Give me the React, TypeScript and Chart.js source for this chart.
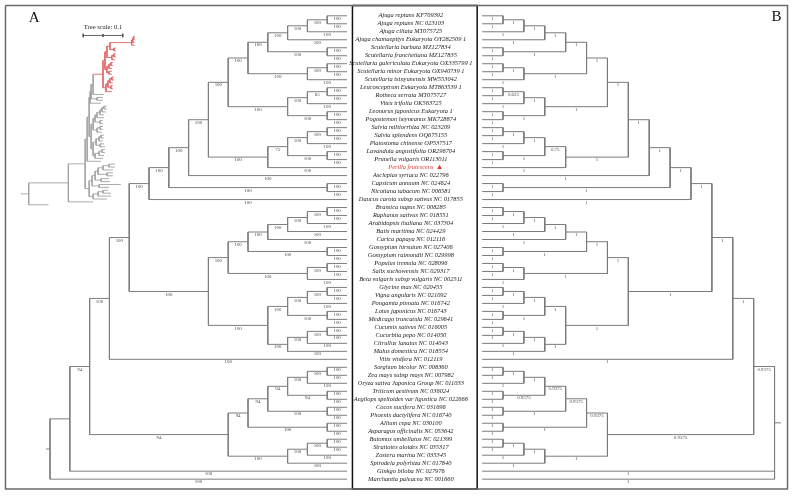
import React, { useEffect, useRef } from "react";
import { Chart, registerables } from "chart.js";

Chart.register(...registerables);

const W = 793;
const H = 496;

// ---------------- DATA ----------------
const taxa: string[] = [
  "Ajuga reptans KF709392",
  "Ajuga reptans NC 023103",
  "Ajuga ciliata MT075725",
  "Ajuga chamaepitys Eukaryota OY282509 1",
  "Scutellaria barbata MZ127834",
  "Scutellaria franchetiana MZ127835",
  "Scutellaria galericulata Eukaryota OX335799 1",
  "Scutellaria minor Eukaryota OX940739 1",
  "Scutellaria tsinyunensis MW553042",
  "Leucosceptrum Eukaryota MT863539 1",
  "Rotheca serrata MT075727",
  "Vitex trifolia OK563725",
  "Leonurus japonicus Eukaryota 1",
  "Pogostemon heyneanus MK728874",
  "Salvia miltiorrhiza NC 023209",
  "Salvia splendens OQ675155",
  "Platostoma chinense OP537517",
  "Lavandula angustifolia OR296704",
  "Prunella vulgaris OR113011",
  "Perilla frutescens",
  "Asclepias syriaca NC 022796",
  "Capsicum annuum NC 024624",
  "Nicotiana tabacum NC 006581",
  "Daucus carota subsp sativus NC 017855",
  "Brassica napus NC 008285",
  "Raphanus sativus NC 018551",
  "Arabidopsis thaliana NC 037304",
  "Batis maritima NC 024429",
  "Carica papaya NC 012116",
  "Gossypium hirsutum NC 027406",
  "Gossypium raimondii NC 029998",
  "Populus tremula NC 028096",
  "Salix suchowensis NC 029317",
  "Beta vulgaris subsp vulgaris NC 002511",
  "Glycine max NC 020455",
  "Vigna angularis NC 021092",
  "Pongamia pinnata NC 016742",
  "Lotus japonicus NC 016743",
  "Medicago truncatula NC 029641",
  "Cucumis sativus NC 016005",
  "Cucurbita pepo NC 014050",
  "Citrullus lanatus NC 014043",
  "Malus domestica NC 018554",
  "Vitis vinifera NC 012119",
  "Sorghum bicolor NC 008360",
  "Zea mays subsp mays NC 007982",
  "Oryza sativa Japonica Group NC 011033",
  "Triticum aestivum NC 036024",
  "Aegilops speltoides var ligustica NC 022666",
  "Cocos nucifera NC 031696",
  "Phoenix dactylifera NC 016740",
  "Allium cepa NC 030100",
  "Asparagus officinalis NC 053642",
  "Butomus umbellatus NC 021399",
  "Stratiotes aloides NC 035317",
  "Zostera marina NC 035345",
  "Spirodela polyrhiza NC 017840",
  "Ginkgo biloba NC 027976",
  "Marchantia paleacea NC 001660",
];

const markedTaxon = 20; // Perilla frutescens (red, marked)
const insetHighlight = [1, 2, 3, 4, 5, 6, 7, 8, 9, 10, 11, 12, 13, 14, 15, 16, 17, 18, 19, 20];

const terminalSupportA = "100";
const terminalSupportB = "1";

// Topology (leaf numbers = index in taxa, 1-based); node labels "bootstrap/posterior"
const cladeAjugaScutellaria =
  "(((((1,2)100/1,3)100/1,4)100/1,(5,6)100/1)100/1,((7,8)100/1,9)100/1)100/1";
const cladeLamiaceaeB = "(((10,11)65/0.625,12)100/1,(13,14)100/1)100/1";
const cladeNepetoideae = "((((15,16)100/1,17)100/1,(18,19)100/1)75/0.75,20)100/1";
const cladeAsterids = `(((((${cladeAjugaScutellaria},${cladeLamiaceaeB})100/1,${cladeNepetoideae})100/1,21)100/1,(22,23)100/1)100/1,24)100/1`;
const cladeRosids =
  "(((((((25,26)100/1,27)100/1,28)100/1,29)100/1,(30,31)100/1)100/1,((32,33)100/1,34)100/1)100/1,((((35,36)100/1,37)100/1,(38,39)100/1)100/1,(((40,41)100/1,42)100/1,43)100/1)100/1)100/1";
const cladeMonocots =
  "((((((45,46)100/1,47)100/1,(48,49)94/0.9375)94/0.9375,(50,51)100/1)94/0.9375,(52,53)100/1)94/0.9375,(((54,55)100/1,56)100/1,57)100/1)94/0.9375";
const topology = `(((((${cladeAsterids},${cladeRosids})100/1,44)100/1,${cladeMonocots})94/0.9375,58)/,59);`;

// Inset phylogram (branch lengths, substitutions/site)
const insetAjugaScutellaria =
  "(((((1:0.0025,2:0.0025):0.0025,3:0.005):0.0025,4:0.0075):0.055,(5:0.005,6:0.005):0.01):0.0075,((7:0.005,8:0.005):0.005,9:0.0075):0.0125):0.005";
const insetLamiaceaeB =
  "(((10:0.005,11:0.005):0.005,12:0.0075):0.005,(13:0.0075,14:0.0075):0.005):0.005";
const insetNepetoideae =
  "((((15:0.005,16:0.005):0.005,17:0.0075):0.005,(18:0.005,19:0.005):0.0075):0.005,20:0.015):0.0075";
const insetAsterids = `(((((${insetAjugaScutellaria},${insetLamiaceaeB}):0.005,${insetNepetoideae}):0.025,21:0.0275):0.005,(22:0.015,23:0.015):0.015):0.0025,24:0.0275):0.0025`;
const insetRosidsA =
  "((((((25:0.0075,26:0.0075):0.005,27:0.01):0.005,28:0.01):0.0075,29:0.0175):0.005,(30:0.0075,31:0.0075):0.0125):0.005,((32:0.0075,33:0.0075):0.0075,34:0.0125):0.01):0.005";
const insetRosidsB =
  "((((35:0.0075,36:0.0075):0.005,37:0.01):0.0075,(38:0.01,39:0.0125):0.01):0.0075,(((40:0.0075,41:0.0075):0.0075,42:0.0125):0.01,43:0.02):0.005):0.005";
const insetMonocots =
  "((((((45:0.015,46:0.015):0.015,47:0.025):0.0125,(48:0.015,49:0.015):0.0225):0.0075,(50:0.02,51:0.0225):0.015):0.0075,(52:0.055,53:0.025):0.0175):0.0075,(((54:0.0125,55:0.02):0.0125,56:0.0325):0.0125,57:0.035):0.01):0.01";
const insetTopology = `(((((${insetAsterids},(${insetRosidsA},${insetRosidsB}):0.005):0.005,44:0.035):0.005,${insetMonocots}):0.0425,58:0.0625):0.1,59:0.05);`;
const treeScaleValue = 0.1;

// ---------------- LAYOUT CONSTANTS ----------------
const LEAF_Y0 = 12;
const LEAF_DY = 8.12;
const A_TIP_X = 346.5;
const A_STEP = 20;
const B_TIP_X = 483;
const B_STEP = 21.1;
const NAME_X = 411;
const INSET_X0 = 25;
const INSET_PX_PER_UNIT = 400;
const INSET_Y0 = 33;
const INSET_DY = 2.95;
const SCALE_BAR_X = 80;
const SCALE_BAR_Y = 32;

// ---------------- TREE HELPERS ----------------
interface TNode {
  children: TNode[];
  leaf: number;
  sa: string;
  sb: string;
  len: number;
  x: number;
  y: number;
  h: number;
}

function parseNewick(src: string): TNode {
  const s = src.trim();
  let i = 0;
  const read = (): TNode => {
    const n: TNode = { children: [], leaf: 0, sa: "", sb: "", len: 0, x: 0, y: 0, h: 0 };
    if (s[i] === "(") {
      i++;
      n.children.push(read());
      while (s[i] === ",") {
        i++;
        n.children.push(read());
      }
      i++;
    }
    let lab = "";
    while (i < s.length && !",():;".includes(s[i])) lab += s[i++];
    if (s[i] === ":") {
      i++;
      let num = "";
      while (i < s.length && !",();".includes(s[i])) num += s[i++];
      n.len = parseFloat(num);
    }
    if (!n.children.length) n.leaf = parseInt(lab, 10);
    else {
      const parts = lab.split("/");
      n.sa = parts[0] || "";
      n.sb = parts[1] || "";
    }
    return n;
  };
  return read();
}

function collapseUnsupportedB(n: TNode): TNode {
  const kids: TNode[] = [];
  for (const c of n.children) {
    const cc = collapseUnsupportedB(c);
    if (cc.children.length && cc.sb === "") kids.push(...cc.children);
    else kids.push(cc);
  }
  return { ...n, children: kids };
}

function setHeights(n: TNode): number {
  n.h = n.children.length ? 1 + Math.max(...n.children.map(setHeights)) : 0;
  return n.h;
}

function setY(n: TNode, leafY: (i: number) => number) {
  if (!n.children.length) n.y = leafY(n.leaf);
  else {
    n.children.forEach((c) => setY(c, leafY));
    n.y = (n.children[0].y + n.children[n.children.length - 1].y) / 2;
  }
}

function setDepthX(n: TNode, base: number) {
  n.x = base + n.len * INSET_PX_PER_UNIT;
  n.children.forEach((c) => setDepthX(c, n.x));
}

function leaves(n: TNode): number[] {
  return n.children.length ? n.children.flatMap(leaves) : [n.leaf];
}

type Pt = { x: number; y: number };
const GAP: Pt = { x: NaN, y: NaN };
function seg(arr: Pt[], x1: number, y1: number, x2: number, y2: number) {
  arr.push({ x: x1, y: y1 }, { x: x2, y: y2 }, GAP);
}

function treeSegments(root: TNode, red: (n: TNode) => boolean, gray: Pt[], hl: Pt[]) {
  const walk = (n: TNode) => {
    if (!n.children.length) return;
    const first = n.children[0];
    const last = n.children[n.children.length - 1];
    seg(red(n) ? hl : gray, n.x, first.y, n.x, last.y);
    for (const c of n.children) {
      seg(red(c) ? hl : gray, n.x, c.y, c.x, c.y);
      walk(c);
    }
  };
  walk(root);
}

type TextItem = {
  text: string;
  x: number;
  y: number;
  font: string;
  color: string;
  align: CanvasTextAlign;
  baseline: CanvasTextBaseline;
};

function supportTexts(root: TNode, pick: (n: TNode) => string, out: TextItem[], font: string, color: string) {
  const walk = (n: TNode) => {
    for (const c of n.children) {
      const t = pick(c);
      if (t) out.push({ text: t, x: (n.x + c.x) / 2, y: c.y + 0.4, font, color, align: "center", baseline: "top" });
      walk(c);
    }
  };
  walk(root);
}

function buildFigure() {
  const leafY = (i: number) => LEAF_Y0 + (i - 1) * LEAF_DY;
  const insetLeafY = (i: number) => INSET_Y0 + (i - 1) * INSET_DY;

  // Tree A (bootstrap cladogram, tips on the right)
  const treeA = parseNewick(topology);
  setHeights(treeA);
  setY(treeA, leafY);
  const placeA = (n: TNode) => {
    n.x = A_TIP_X - A_STEP * n.h;
    n.children.forEach(placeA);
  };
  placeA(treeA);

  // Tree B (posterior cladogram, mirrored, tips on the left)
  const treeB = collapseUnsupportedB(parseNewick(topology));
  setHeights(treeB);
  setY(treeB, leafY);
  const placeB = (n: TNode) => {
    n.x = B_TIP_X + B_STEP * n.h;
    n.children.forEach(placeB);
  };
  placeB(treeB);

  // Inset phylogram
  const inset = parseNewick(insetTopology);
  setY(inset, insetLeafY);
  setDepthX(inset, INSET_X0);
  const hlSet = new Set(insetHighlight);
  const isHl = (n: TNode) => leaves(n).every((l) => hlSet.has(l));

  const aLines: Pt[] = [];
  const bLines: Pt[] = [];
  const insetGray: Pt[] = [];
  const insetRed: Pt[] = [];
  treeSegments(treeA, () => false, aLines, aLines);
  seg(aLines, treeA.x - 4, treeA.y, treeA.x, treeA.y);
  treeSegments(treeB, () => false, bLines, bLines);
  seg(bLines, treeB.x, treeB.y, treeB.x + 6.5, treeB.y);
  treeSegments(inset, isHl, insetGray, insetRed);
  seg(insetGray, inset.x - 8, inset.y, inset.x, inset.y);

  // scale bar
  const scalePx = treeScaleValue * INSET_PX_PER_UNIT;
  const scaleBar: Pt[] = [];
  seg(scaleBar, SCALE_BAR_X, SCALE_BAR_Y, SCALE_BAR_X + scalePx, SCALE_BAR_Y);
  seg(scaleBar, SCALE_BAR_X, SCALE_BAR_Y - 1.8, SCALE_BAR_X, SCALE_BAR_Y + 1.8);
  seg(scaleBar, SCALE_BAR_X + scalePx / 2, SCALE_BAR_Y - 1.5, SCALE_BAR_X + scalePx / 2, SCALE_BAR_Y + 1.5);
  seg(scaleBar, SCALE_BAR_X + scalePx, SCALE_BAR_Y - 1.8, SCALE_BAR_X + scalePx, SCALE_BAR_Y + 1.8);

  // frames
  const frame: Pt[] = [
    { x: 1.5, y: 1.5 },
    { x: 791.5, y: 1.5 },
    { x: 791.5, y: 493 },
    { x: 1.5, y: 493 },
    { x: 1.5, y: 1.5 },
  ];
  const box: Pt[] = [
    { x: 352, y: 1.5 },
    { x: 478, y: 1.5 },
    { x: 478, y: 493 },
    { x: 352, y: 493 },
    { x: 352, y: 1.5 },
  ];

  const texts: TextItem[] = [];
  const supFont = '4.9px "Liberation Serif"';
  supportTexts(treeA, (n) => (n.children.length ? n.sa : terminalSupportA), texts, supFont, "#4a4a4a");
  supportTexts(treeB, (n) => (n.children.length ? n.sb : terminalSupportB), texts, supFont, "#4a4a4a");
  taxa.forEach((name, k) => {
    const i = k + 1;
    texts.push({
      text: name,
      x: NAME_X,
      y: leafY(i),
      font: 'italic 6.4px "Liberation Serif"',
      color: i === markedTaxon ? "#e8392b" : "#1a1a1a",
      align: "center",
      baseline: "middle",
    });
  });
  texts.push({ text: "A", x: 30.5, y: 14, font: '15px "Liberation Serif"', color: "#111", align: "center", baseline: "middle" });
  texts.push({ text: "B", x: 780.5, y: 13.5, font: '15px "Liberation Serif"', color: "#111", align: "center", baseline: "middle" });
  texts.push({
    text: `Tree scale: ${treeScaleValue}`,
    x: SCALE_BAR_X + scalePx / 2,
    y: SCALE_BAR_Y - 8.5,
    font: '6.6px "Liberation Serif"',
    color: "#222",
    align: "center",
    baseline: "middle",
  });

  const marker: Pt[] = [{ x: 440, y: leafY(markedTaxon) }];

  const line = (data: Pt[], color: string, width: number) => ({
    data,
    showLine: true,
    borderColor: color,
    borderWidth: width,
    pointRadius: 0,
    pointHoverRadius: 0,
    spanGaps: false,
    tension: 0,
    clip: false as any,
  });

  const datasets: any[] = [
    line(aLines, "#7e7e7e", 1),
    line(bLines, "#7a7a7a", 1),
    line(insetGray, "#a2a2a2", 0.9),
    line(insetRed, "#e06262", 0.9),
    line(scaleBar, "#555", 0.9),
    line(frame, "#6a6a6a", 1.5),
    line(box, "#111", 1.5),
    {
      data: marker,
      showLine: false,
      pointStyle: "triangle",
      pointRadius: 2.8,
      pointBackgroundColor: "#e8392b",
      pointBorderColor: "#e8392b",
      pointBorderWidth: 0,
      clip: false,
    },
  ];
  return { datasets, texts };
}

export default function App() {
  const ref = useRef<HTMLCanvasElement>(null);
  useEffect(() => {
    document.body.style.margin = "0";
    const canvas = ref.current;
    if (!canvas) return;
    const { datasets, texts } = buildFigure();
    const textPlugin = {
      id: "treeTexts",
      afterDatasetsDraw(chart: any) {
        const { ctx } = chart;
        const sx = chart.scales.x;
        const sy = chart.scales.y;
        ctx.save();
        for (const t of texts) {
          ctx.font = t.font;
          ctx.fillStyle = t.color;
          ctx.textAlign = t.align;
          ctx.textBaseline = t.baseline;
          ctx.fillText(t.text, sx.getPixelForValue(t.x), sy.getPixelForValue(t.y));
        }
        ctx.restore();
      },
    };
    const chart = new Chart(canvas, {
      type: "scatter",
      data: { datasets },
      options: {
        animation: false,
        responsive: false,
        maintainAspectRatio: false,
        events: [],
        layout: { padding: 0 },
        plugins: { legend: { display: false }, tooltip: { enabled: false } },
        scales: {
          x: { type: "linear", min: 0, max: W, display: false },
          y: { type: "linear", min: 0, max: H, reverse: true, display: false },
        },
      },
      plugins: [textPlugin],
    });
    return () => chart.destroy();
  }, []);
  return (
    <div style={{ width: W, height: H, background: "#fff" }}>
      <canvas ref={ref} width={W} height={H} style={{ display: "block", width: W, height: H }} />
    </div>
  );
}
